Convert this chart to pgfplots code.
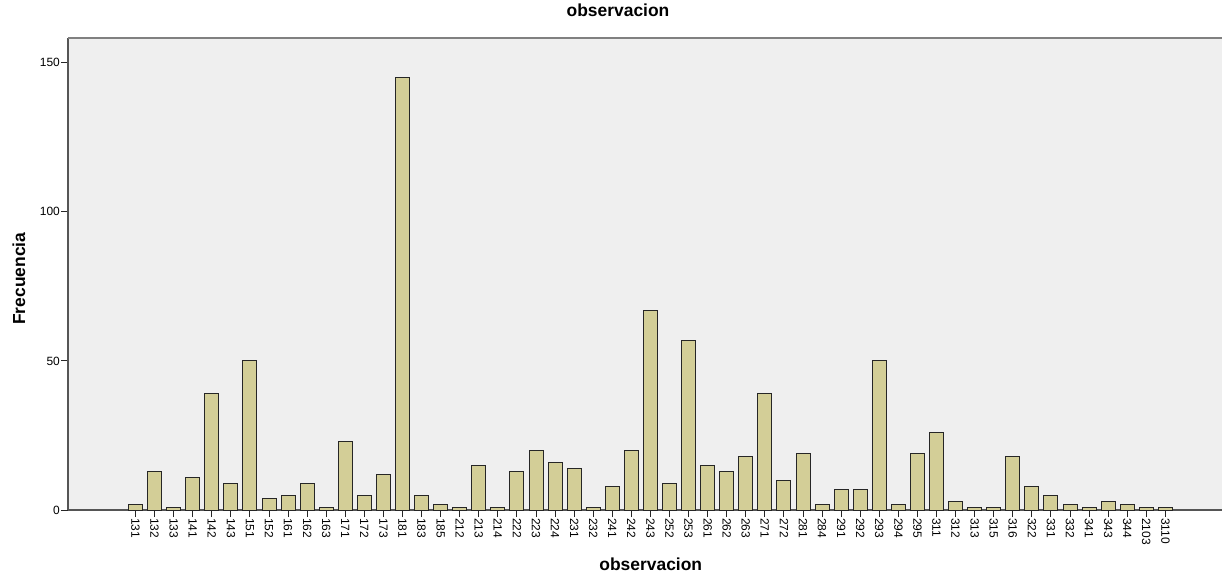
\documentclass[border=0pt]{standalone}
\usepackage{fontspec}
\setmainfont{Liberation Sans}
\usepackage{pgfplots}
\usepackage{pgfplotstable}
\pgfplotsset{compat=1.18}

\definecolor{barfill}{HTML}{D3CE97}
\definecolor{plotbg}{HTML}{EFEFEF}
\definecolor{frame}{HTML}{555555}

\pgfplotstableread{
x label freq
0 131 2
1 132 13
2 133 1
3 141 11
4 142 39
5 143 9
6 151 50
7 152 4
8 161 5
9 162 9
10 163 1
11 171 23
12 172 5
13 173 12
14 181 145
15 183 5
16 185 2
17 212 1
18 213 15
19 214 1
20 222 13
21 223 20
22 224 16
23 231 14
24 232 1
25 241 8
26 242 20
27 243 67
28 252 9
29 253 57
30 261 15
31 262 13
32 263 18
33 271 39
34 272 10
35 281 19
36 284 2
37 291 7
38 292 7
39 293 50
40 294 2
41 295 19
42 311 26
43 312 3
44 313 1
45 315 1
46 316 18
47 322 8
48 331 5
49 332 2
50 341 1
51 343 3
52 344 2
53 2103 1
54 3110 1
}\obs

\begin{document}
\begin{tikzpicture}
\begin{axis}[
  scale only axis,
  width=1154bp, height=472bp,
  axis background/.style={fill=plotbg},
  axis line style={frame, line width=1.6bp},
  ybar, bar width=14bp,
  xmin=-3.54, xmax=56.97,
  ymin=0, ymax=158.3,
  xtick=data,
  xticklabels from table={\obs}{label},
  x tick label style={rotate=-90, anchor=west, inner sep=1bp, font=\fontsize{12}{12}\selectfont},
  ytick={0,50,100,150},
  y tick label style={inner sep=1bp, font=\fontsize{12}{12}\selectfont},
  /pgf/number format/assume math mode=true,
  tick align=outside,
  major tick length=7bp,
  tick style={black!85, line width=1bp},
  axis x line*=bottom, axis y line*=left,
  title={\bfseries observacion},
  title style={at={(rel axis cs:0.4766,1)}, anchor=center, yshift=22bp,
    font=\fontsize{17.5}{17.5}\selectfont},
  xlabel={\bfseries observacion},
  xlabel style={at={(rel axis cs:0.505,0)}, anchor=center, yshift=-54bp},
  ylabel={\bfseries Frecuencia},
  ylabel style={at={(rel axis cs:0,0.49)}, anchor=center, yshift=49bp},
  label style={font=\fontsize{17.5}{17.5}\selectfont},
]
\addplot[fill=barfill, draw=black!85, line width=1bp] table[x=x, y=freq] {\obs};
\draw[black!50, line width=2bp] (rel axis cs:0,1) -- (rel axis cs:1,1);
\end{axis}
\pgfresetboundingbox
\path ([xshift=-68bp,yshift=-63bp]current axis.south west)
  rectangle ([yshift=38bp]current axis.north east);
\end{tikzpicture}
\end{document}
